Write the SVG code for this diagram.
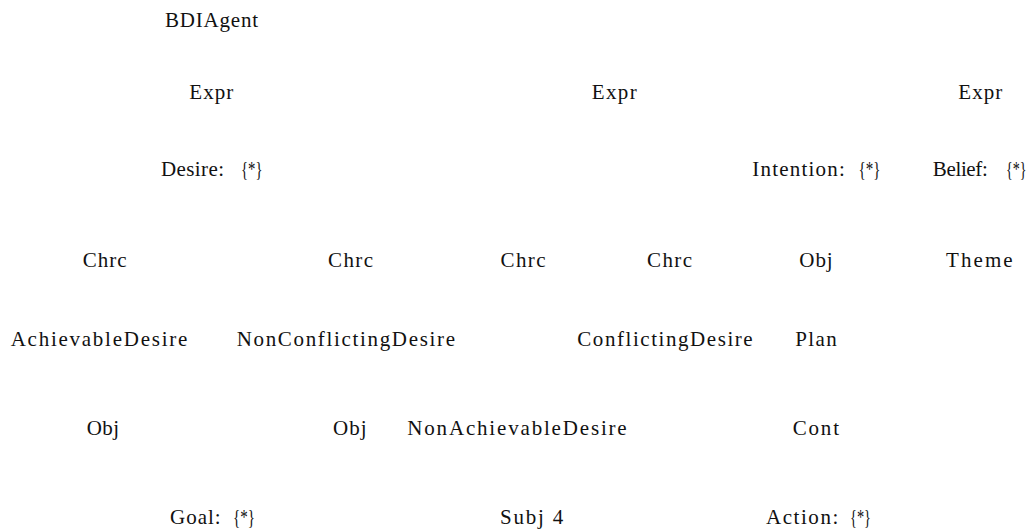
<svg xmlns="http://www.w3.org/2000/svg" width="1031" height="532" viewBox="0 0 1031 532">
<style>
text{font-family:"Liberation Serif","Times New Roman",serif;font-size:21px;fill:#111}
.br{font-size:20px}
</style>
<rect width="1031" height="532" fill="#fff"/>
<g id="connectors"/>
<g id="n-bdiagent"><text x="165" y="27" textLength="93" lengthAdjust="spacing">BDIAgent</text></g>
<g id="n-expr1"><text x="189.3" y="99" textLength="44" lengthAdjust="spacing">Expr</text></g>
<g id="n-expr2"><text x="591.7" y="99" textLength="45" lengthAdjust="spacing">Expr</text></g>
<g id="n-expr3"><text x="958.3" y="99" textLength="44" lengthAdjust="spacing">Expr</text></g>
<g id="n-desire"><text x="161" y="175.5" textLength="63" lengthAdjust="spacing">Desire:</text><text class="br" x="241" y="175.5" textLength="21.5" lengthAdjust="spacingAndGlyphs">{*}</text></g>
<g id="n-intention"><text x="752.3" y="175.5" textLength="92.5" lengthAdjust="spacing">Intention:</text><text class="br" x="858.5" y="175.5" textLength="22" lengthAdjust="spacingAndGlyphs">{*}</text></g>
<g id="n-belief"><text x="932.8" y="175.5" textLength="55" lengthAdjust="spacing">Belief:</text><text class="br" x="1026.5" y="175.5" text-anchor="end" textLength="20.5" lengthAdjust="spacingAndGlyphs">{*}</text></g>
<g id="n-chrc1"><text x="82.7" y="266.5" textLength="44" lengthAdjust="spacing">Chrc</text></g>
<g id="n-chrc2"><text x="328" y="266.5" textLength="45" lengthAdjust="spacing">Chrc</text></g>
<g id="n-chrc3"><text x="500.5" y="266.5" textLength="45" lengthAdjust="spacing">Chrc</text></g>
<g id="n-chrc4"><text x="647" y="266.5" textLength="45" lengthAdjust="spacing">Chrc</text></g>
<g id="n-obj1"><text x="799.3" y="266.5" textLength="33.4" lengthAdjust="spacing">Obj</text></g>
<g id="n-theme"><text x="946" y="266.5" textLength="66.7" lengthAdjust="spacing">Theme</text></g>
<g id="n-achievable"><text x="10.7" y="346" textLength="176.6" lengthAdjust="spacing">AchievableDesire</text></g>
<g id="n-nonconflicting"><text x="236.7" y="346" textLength="218.3" lengthAdjust="spacing">NonConflictingDesire</text></g>
<g id="n-conflicting"><text x="577.3" y="346" textLength="175.4" lengthAdjust="spacing">ConflictingDesire</text></g>
<g id="n-plan"><text x="795.3" y="346" textLength="41.4" lengthAdjust="spacing">Plan</text></g>
<g id="n-obj2"><text x="86.7" y="435" textLength="32.3" lengthAdjust="spacing">Obj</text></g>
<g id="n-obj3"><text x="333" y="435" textLength="33.7" lengthAdjust="spacing">Obj</text></g>
<g id="n-nonachievable"><text x="407.3" y="435" textLength="219.4" lengthAdjust="spacing">NonAchievableDesire</text></g>
<g id="n-cont"><text x="792.7" y="435" textLength="46.3" lengthAdjust="spacing">Cont</text></g>
<g id="n-goal"><text x="170" y="523.5" textLength="50.7" lengthAdjust="spacing">Goal:</text><text class="br" x="233" y="523.5" textLength="22" lengthAdjust="spacingAndGlyphs">{*}</text></g>
<g id="n-subj"><text x="500" y="523.5" textLength="63.3" lengthAdjust="spacing">Subj 4</text></g>
<g id="n-action"><text x="766" y="523.5" textLength="72.3" lengthAdjust="spacing">Action:</text><text class="br" x="850" y="523.5" textLength="21" lengthAdjust="spacingAndGlyphs">{*}</text></g>
</svg>
